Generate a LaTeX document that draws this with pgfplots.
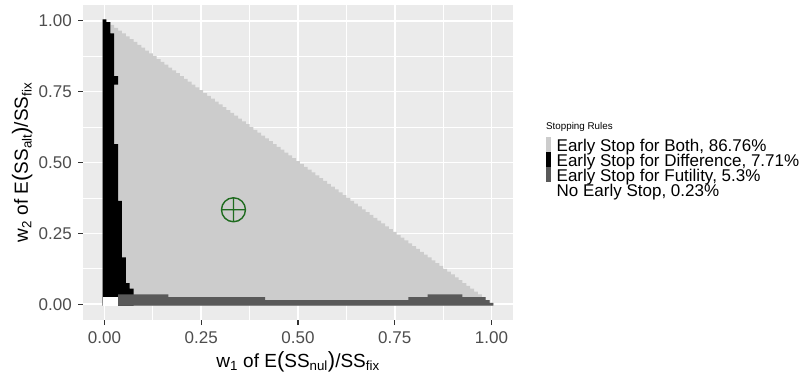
\documentclass[border=0pt]{standalone}
\usepackage{pgfplots}
\pgfplotsset{compat=1.18}
\usepackage{fontspec}
\setmainfont{Liberation Sans}
\definecolor{panelbg}{HTML}{EBEBEB}
\definecolor{both}{HTML}{CCCCCC}
\definecolor{fut}{HTML}{595959}
\definecolor{ticklab}{HTML}{4D4D4D}
\definecolor{tickc}{HTML}{333333}
\definecolor{mk}{HTML}{1E6B1E}
\newcommand{\bp}[1]{{\fontsize{22}{22}\selectfont #1}}
\begin{document}
\begin{tikzpicture}
\path[use as bounding box] (0,0) rectangle (808pt,378pt);
\begin{axis}[
  at={(83pt,58pt)}, anchor=south west,
  scale only axis, width=430pt, height=315pt,
  xmin=-0.0555, xmax=1.0555, ymin=-0.0555, ymax=1.0555,
  axis background/.style={fill=panelbg},
  axis line style={draw=none},
  xtick={0,0.25,0.5,0.75,1}, ytick={0,0.25,0.5,0.75,1},
  xticklabels={0.00,0.25,0.50,0.75,1.00},
  yticklabels={0.00,0.25,0.50,0.75,1.00},
  minor tick num=1,
  grid=both,
  major grid style={white, line width=1.6pt},
  minor grid style={white, line width=0.8pt},
  tick pos=left, tick align=outside,
  major tick length=5pt, minor tick length=0pt,
  tick style={tickc, line width=1.1pt},
  ticklabel style={font=\fontsize{17}{17}\selectfont, text=ticklab, inner sep=0pt},
  xticklabel style={anchor=north, yshift=-6pt},
  yticklabel style={anchor=east, xshift=-6pt},
  xlabel={w\textsubscript{1} of E\bp{(}SS\textsubscript{nul}\bp{)}/SS\textsubscript{fix}},
  ylabel={w\textsubscript{2} of E\bp{(}SS\textsubscript{alt}\bp{)}/SS\textsubscript{fix}},
  xlabel style={at={(axis description cs:0.5,-0.1500)}, anchor=base, font=\fontsize{19}{19}\selectfont, inner sep=0pt},
  ylabel style={at={(axis description cs:-0.1280,0.5)}, anchor=base, font=\fontsize{19}{19}\selectfont, inner sep=0pt},
  legend style={at={(1.0767,0.5800)}, anchor=north west, draw=none, fill=none,
    inner sep=0pt, outer sep=0pt, font=\fontsize{17}{17}\selectfont,
    row sep=0pt, column sep=6pt,
    nodes={inner sep=0pt, text height=14.7pt, text depth=0.3pt}},
  legend cell align=left,
  legend image code/.code={\fill[#1] (0pt,-7.2pt) rectangle (4.7pt,7.5pt);},
]
% Early stop for both: whole simplex (staircase)
\addplot[const plot, fill=both, draw=none] coordinates {
(-0.005,-0.005) (-0.005,1.005)
(0.005,0.995) (0.015,0.985) (0.025,0.975) (0.035,0.965) (0.045,0.955) (0.055,0.945) (0.065,0.935) (0.075,0.925) (0.085,0.915) (0.095,0.905)
(0.105,0.895) (0.115,0.885) (0.125,0.875) (0.135,0.865) (0.145,0.855) (0.155,0.845) (0.165,0.835) (0.175,0.825) (0.185,0.815) (0.195,0.805)
(0.205,0.795) (0.215,0.785) (0.225,0.775) (0.235,0.765) (0.245,0.755) (0.255,0.745) (0.265,0.735) (0.275,0.725) (0.285,0.715) (0.295,0.705)
(0.305,0.695) (0.315,0.685) (0.325,0.675) (0.335,0.665) (0.345,0.655) (0.355,0.645) (0.365,0.635) (0.375,0.625) (0.385,0.615) (0.395,0.605)
(0.405,0.595) (0.415,0.585) (0.425,0.575) (0.435,0.565) (0.445,0.555) (0.455,0.545) (0.465,0.535) (0.475,0.525) (0.485,0.515) (0.495,0.505)
(0.505,0.495) (0.515,0.485) (0.525,0.475) (0.535,0.465) (0.545,0.455) (0.555,0.445) (0.565,0.435) (0.575,0.425) (0.585,0.415) (0.595,0.405)
(0.605,0.395) (0.615,0.385) (0.625,0.375) (0.635,0.365) (0.645,0.355) (0.655,0.345) (0.665,0.335) (0.675,0.325) (0.685,0.315) (0.695,0.305)
(0.705,0.295) (0.715,0.285) (0.725,0.275) (0.735,0.265) (0.745,0.255) (0.755,0.245) (0.765,0.235) (0.775,0.225) (0.785,0.215) (0.795,0.205)
(0.805,0.195) (0.815,0.185) (0.825,0.175) (0.835,0.165) (0.845,0.155) (0.855,0.145) (0.865,0.135) (0.875,0.125) (0.885,0.115) (0.895,0.105)
(0.905,0.095) (0.915,0.085) (0.925,0.075) (0.935,0.065) (0.945,0.055) (0.955,0.045) (0.965,0.035) (0.975,0.025) (0.985,0.015) (0.995,0.005)
(1.005,-0.005)
};
\addlegendentry{Early Stop for Both, 86.76\%}
% Early stop for difference
\addplot[fill=black, draw=none] coordinates {
(-0.005,-0.005) (-0.005,1.005) (0.005,1.005) (0.005,0.995) (0.015,0.995) (0.015,0.955)
(0.025,0.955) (0.025,0.805) (0.035,0.805) (0.035,0.775) (0.025,0.775) (0.025,0.565)
(0.035,0.565) (0.035,0.365) (0.045,0.365) (0.045,0.165) (0.055,0.165) (0.055,0.075)
(0.065,0.075) (0.065,0.055) (0.075,0.055) (0.075,-0.005)
};
\addlegendentry{Early Stop for Difference, 7.71\%}
% Early stop for futility
\addplot[fill=fut, draw=none] coordinates {
(0.035,-0.005) (0.035,0.035) (0.165,0.035) (0.165,0.025) (0.415,0.025) (0.415,0.015)
(0.785,0.015) (0.785,0.025) (0.835,0.025) (0.835,0.035) (0.925,0.035) (0.925,0.025)
(0.985,0.025) (0.985,0.015) (0.995,0.015) (0.995,0.005) (1.005,0.005) (1.005,-0.005)
};
\addlegendentry{Early Stop for Futility, 5.3\%}
% No early stop
\addplot[fill=white, draw=none] coordinates {
(-0.005,-0.005) (-0.005,0.025) (0.035,0.025) (0.035,-0.005)
};
\addlegendentry{No Early Stop, 0.23\%}
% design point
\addplot[only marks, mark=oplus, mark size=12pt, mk, line width=1.4pt, forget plot] coordinates {(0.3333,0.3333)};
\end{axis}
\node[anchor=base west, font=\fontsize{9.8}{10}\selectfont, inner sep=0pt] at (546pt,248pt) {Stopping Rules};
\end{tikzpicture}
\end{document}
